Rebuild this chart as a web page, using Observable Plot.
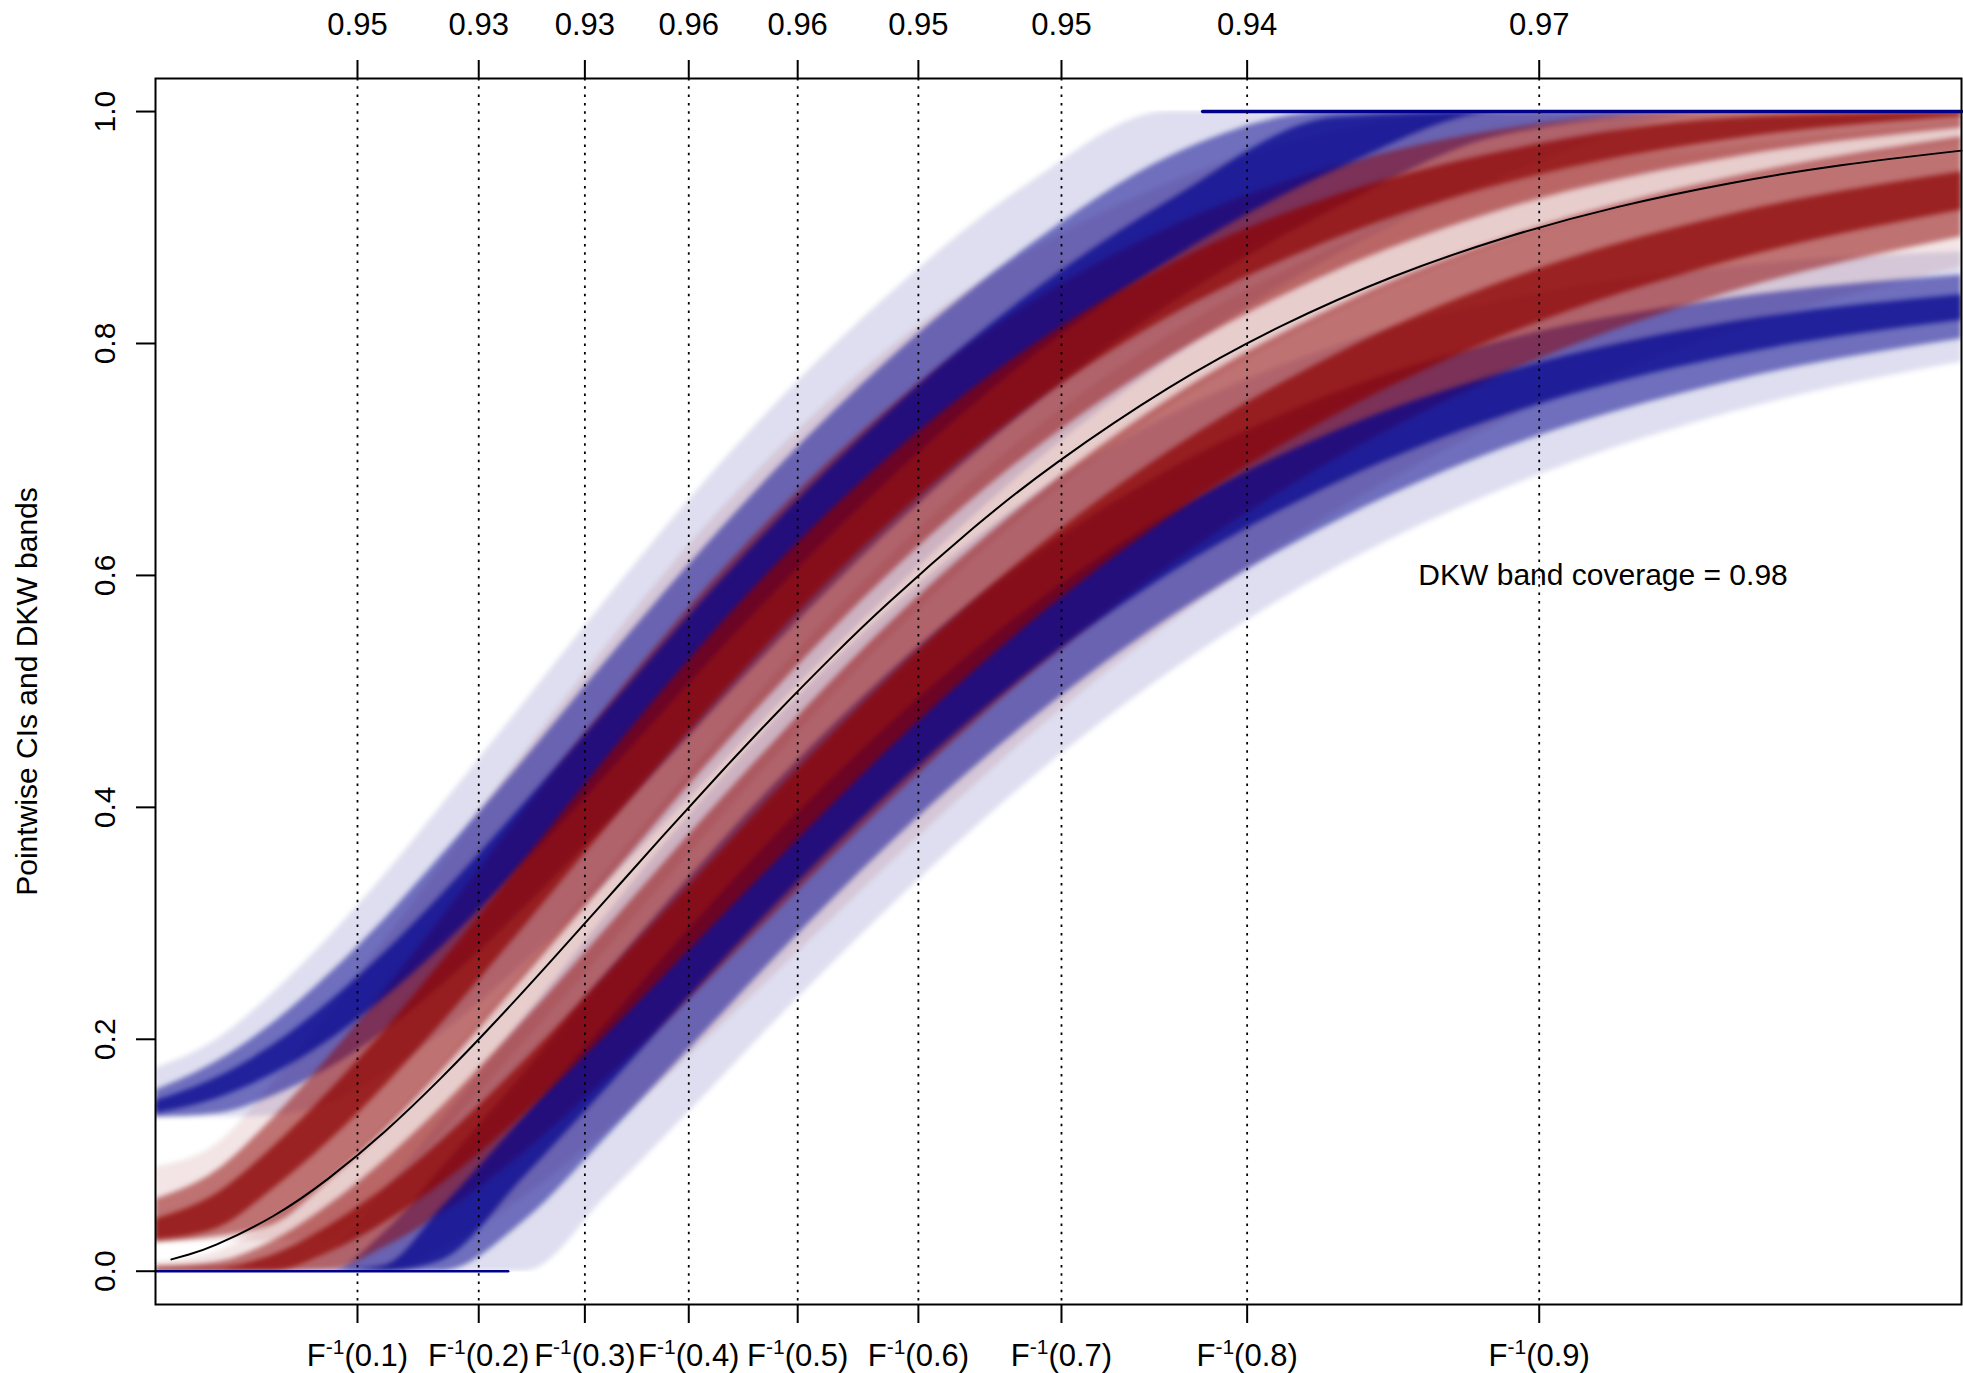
<!DOCTYPE html>
<html><head><meta charset="utf-8">
<script src="https://cdn.jsdelivr.net/npm/d3@7"></script>
<script src="https://cdn.jsdelivr.net/npm/@observablehq/plot@0.6"></script>
<style>html,body{margin:0;padding:0;background:#fff;overflow:hidden}</style>
</head><body><div id="chart"></div>
<script>
// x grid (in units of the underlying distribution)
const gridX = [0.381, 0.6, 0.8, 1.0, 1.2, 1.4, 1.7, 2.0, 2.3, 2.6, 3.0, 3.5, 4.0, 4.6, 5.2, 6.0, 6.83];

// spread of the simulated lines at each grid x: [outerLo, midLo, coreLo, coreHi, midHi, outerHi]
const dkwUpper = [
  [0.133,0.133,0.136,0.147,0.156,0.175],
  [0.133,0.136,0.149,0.167,0.181,0.200],
  [0.134,0.151,0.170,0.195,0.214,0.240],
  [0.145,0.175,0.199,0.232,0.256,0.288],
  [0.171,0.207,0.236,0.275,0.304,0.342],
  [0.205,0.246,0.279,0.324,0.358,0.401],
  [0.266,0.314,0.352,0.404,0.442,0.491],
  [0.337,0.388,0.430,0.486,0.529,0.582],
  [0.411,0.465,0.510,0.569,0.613,0.669],
  [0.487,0.542,0.587,0.647,0.692,0.749],
  [0.583,0.638,0.682,0.741,0.786,0.842],
  [0.693,0.744,0.786,0.842,0.884,0.938],
  [0.786,0.833,0.871,0.923,0.961,1.000],
  [0.877,0.917,0.950,0.995,1.000,1.000],
  [0.945,0.980,1.000,1.000,1.000,1.000],
  [1,1,1,1,1,1],
  [1,1,1,1,1,1]
];
const dkwLower = [
  [0,0,0,0,0,0],
  [0,0,0,0,0,0],
  [0,0,0,0,0,0],
  [0,0,0,0,0,0.016],
  [0,0,0,0.005,0.034,0.070],
  [0,0,0.009,0.054,0.088,0.129],
  [0,0.044,0.082,0.134,0.172,0.219],
  [0.067,0.118,0.160,0.216,0.259,0.310],
  [0.141,0.195,0.240,0.299,0.343,0.397],
  [0.217,0.272,0.317,0.377,0.422,0.477],
  [0.313,0.368,0.412,0.471,0.516,0.570],
  [0.423,0.474,0.516,0.572,0.614,0.666],
  [0.516,0.563,0.601,0.653,0.691,0.738],
  [0.607,0.647,0.680,0.725,0.758,0.798],
  [0.675,0.710,0.738,0.775,0.803,0.837],
  [0.740,0.767,0.789,0.818,0.839,0.866],
  [0.784,0.804,0.820,0.842,0.859,0.879]
];
const ciUpper = [
  [0.025,0.025,0.027,0.045,0.062,0.090],
  [0.026,0.030,0.037,0.067,0.087,0.110],
  [0.026,0.040,0.071,0.107,0.132,0.162],
  [0.029,0.078,0.112,0.155,0.185,0.221],
  [0.072,0.122,0.160,0.208,0.243,0.285],
  [0.119,0.172,0.213,0.266,0.304,0.350],
  [0.198,0.254,0.298,0.355,0.398,0.448],
  [0.280,0.338,0.385,0.445,0.489,0.542],
  [0.364,0.423,0.469,0.531,0.576,0.630],
  [0.445,0.503,0.549,0.610,0.654,0.707],
  [0.546,0.601,0.645,0.702,0.744,0.795],
  [0.655,0.705,0.745,0.796,0.834,0.879],
  [0.745,0.788,0.823,0.868,0.900,0.938],
  [0.827,0.863,0.891,0.928,0.953,0.982],
  [0.887,0.916,0.938,0.966,0.985,1.000],
  [0.940,0.960,0.976,0.994,1.000,1.000],
  [0.973,0.986,0.996,1.000,1.000,1.000]
];
const ciLower = [
  [0,0,0,0.002,0.004,0.008],
  [0,0,0,0.003,0.008,0.017],
  [0,0,0,0.014,0.026,0.043],
  [0,0.001,0.016,0.039,0.057,0.081],
  [0,0.021,0.042,0.072,0.096,0.126],
  [0.020,0.049,0.075,0.112,0.141,0.177],
  [0.065,0.103,0.136,0.182,0.217,0.261],
  [0.123,0.168,0.206,0.258,0.298,0.348],
  [0.189,0.238,0.280,0.336,0.380,0.434],
  [0.258,0.310,0.354,0.414,0.459,0.516],
  [0.351,0.405,0.450,0.511,0.558,0.616],
  [0.461,0.514,0.558,0.618,0.664,0.722],
  [0.558,0.608,0.650,0.707,0.752,0.807],
  [0.656,0.701,0.739,0.791,0.832,0.884],
  [0.734,0.774,0.807,0.854,0.891,0.940],
  [0.811,0.844,0.871,0.911,0.943,0.970],
  [0.866,0.892,0.915,0.948,0.978,0.990]
];

// runs of clipped DKW lines
const dkwAtZeroX = [0.381, 1.64];
const dkwAtOneX = [4.12, 6.83];

// true CDF
const cdfX = [0.4375,0.5,0.6,0.8,1.0,1.2,1.4,1.6,1.8,2.0,2.2,2.4,2.6,2.8,3.0,3.3,3.6,4.0,4.4,4.8,5.2,5.6,6.0,6.4,6.83];
const cdfY = [0.0102,0.0144,0.0231,0.0474,0.0803,0.1205,0.1665,0.2166,0.2694,0.3233,0.3773,0.4303,0.4816,0.5306,0.5768,0.6406,0.6973,0.7619,0.8149,0.8575,0.8912,0.9176,0.9380,0.9537,0.9663];

// quantile ticks
const quantileProbs = ["0.1","0.2","0.3","0.4","0.5","0.6","0.7","0.8","0.9"];
const quantileX = [1.102,1.535,1.914,2.285,2.674,3.105,3.616,4.279,5.322];
const coverage = ["0.95","0.93","0.93","0.96","0.96","0.95","0.95","0.94","0.97"];
const yTicks = [0,0.2,0.4,0.6,0.8,1.0];

const noteText = ["DKW band coverage = 0.98"];
const noteX = [5.55];
const noteY = [0.6];

const BLUE = "#00008B", RED = "#8B0000";
const blueOpacity = [0.13, 0.5, 0.7];
const redOpacity = [0.1, 0.5, 0.7];

function layer(band, lev) {
  return gridX.map((x, i) => ({x, lo: band[i][lev], hi: band[i][5 - lev]}));
}

const marks = [];
for (let lev = 0; lev < 3; lev++) {
  for (const band of [dkwUpper, dkwLower]) {
    marks.push(Plot.areaY(layer(band, lev), {x: "x", y1: "lo", y2: "hi", fill: BLUE, fillOpacity: blueOpacity[lev], curve: "monotone-x", className: "band"}));
  }
  for (const band of [ciUpper, ciLower]) {
    marks.push(Plot.areaY(layer(band, lev), {x: "x", y1: "lo", y2: "hi", fill: RED, fillOpacity: redOpacity[lev], curve: "monotone-x", className: "band"}));
  }
}
marks.push(Plot.lineY(dkwAtZeroX.map(x => ({x, y: 0})), {x: "x", y: "y", stroke: BLUE, strokeWidth: 2.5}));
marks.push(Plot.lineY(dkwAtOneX.map(x => ({x, y: 1})), {x: "x", y: "y", stroke: BLUE, strokeWidth: 3.5}));
marks.push(Plot.ruleX(quantileX, {stroke: "black", strokeWidth: 1.8, strokeDasharray: "2.5,5.8"}));
marks.push(Plot.line(cdfX.map((x, i) => ({x, y: cdfY[i]})), {x: "x", y: "y", stroke: "black", strokeWidth: 2, curve: "natural"}));
marks.push(Plot.frame({stroke: "black", strokeWidth: 2}));
marks.push(Plot.axisY({ticks: yTicks, anchor: "left", tickSize: 19, tickPadding: 22, tickRotate: -90, tickFormat: d => d.toFixed(1), strokeWidth: 2, fontSize: 30, label: null}));
marks.push(Plot.axisX({ticks: quantileX, anchor: "bottom", tickSize: 19, tickPadding: 20, tickFormat: d => "F|-1|(" + quantileProbs[quantileX.indexOf(d)] + ")", strokeWidth: 2, fontSize: 31, label: null}));
marks.push(Plot.axisX({ticks: quantileX, anchor: "top", tickSize: 19, tickPadding: 25, tickFormat: d => coverage[quantileX.indexOf(d)], strokeWidth: 2, fontSize: 31, label: null}));
marks.push(Plot.text(noteText, {x: noteX, y: noteY, text: d => d, fontSize: 30, textAnchor: "middle", fill: "black"}));
marks.push(Plot.text(["Pointwise CIs and DKW bands"], {text: d => d, frameAnchor: "left", textAnchor: "middle", dx: -128, rotate: -90, fontSize: 30, fill: "black"}));

const chart = Plot.plot({
  width: 1963, height: 1373,
  marginLeft: 155, marginRight: 2, marginTop: 78, marginBottom: 69,
  x: {domain: [0.3807, 6.830]},
  y: {domain: [-0.0287, 1.0285]},
  style: {fontFamily: "'Liberation Sans', Arial, sans-serif", fontSize: "30px", background: "white", color: "black"},
  marks
});
document.getElementById("chart").appendChild(chart);

// soften the band edges like many overlapping translucent lines, keeping them inside [0, 1]
const ns = "http://www.w3.org/2000/svg";
const sx = chart.scale("x"), sy = chart.scale("y");
const defs = document.createElementNS(ns, "defs");
const cp = document.createElementNS(ns, "clipPath");
cp.setAttribute("id", "unit-clip");
const rect = document.createElementNS(ns, "rect");
const x0 = sx.apply(sx.domain[0]), x1 = sx.apply(sx.domain[1]);
const yTop = sy.apply(1), yBot = sy.apply(0);
rect.setAttribute("x", x0); rect.setAttribute("width", x1 - x0);
rect.setAttribute("y", yTop - 1); rect.setAttribute("height", yBot - yTop + 2);
cp.appendChild(rect); defs.appendChild(cp); chart.insertBefore(defs, chart.firstChild);
chart.querySelectorAll("g.band").forEach(g => {
  g.style.filter = "blur(2.5px)";
  g.setAttribute("clip-path", "url(#unit-clip)");
});

// superscript "-1" in the bottom tick labels
chart.querySelectorAll("text").forEach(t => {
  const s = t.textContent;
  if (s.includes("|")) {
    const [a, b, c] = s.split("|");
    t.textContent = "";
    const t1 = document.createElementNS(ns, "tspan"); t1.textContent = a;
    const t2 = document.createElementNS(ns, "tspan"); t2.textContent = b;
    t2.setAttribute("font-size", "21"); t2.setAttribute("dy", "-12");
    const t3 = document.createElementNS(ns, "tspan"); t3.textContent = c;
    t3.setAttribute("dy", "12");
    t.appendChild(t1); t.appendChild(t2); t.appendChild(t3);
  }
});
</script></body></html>
